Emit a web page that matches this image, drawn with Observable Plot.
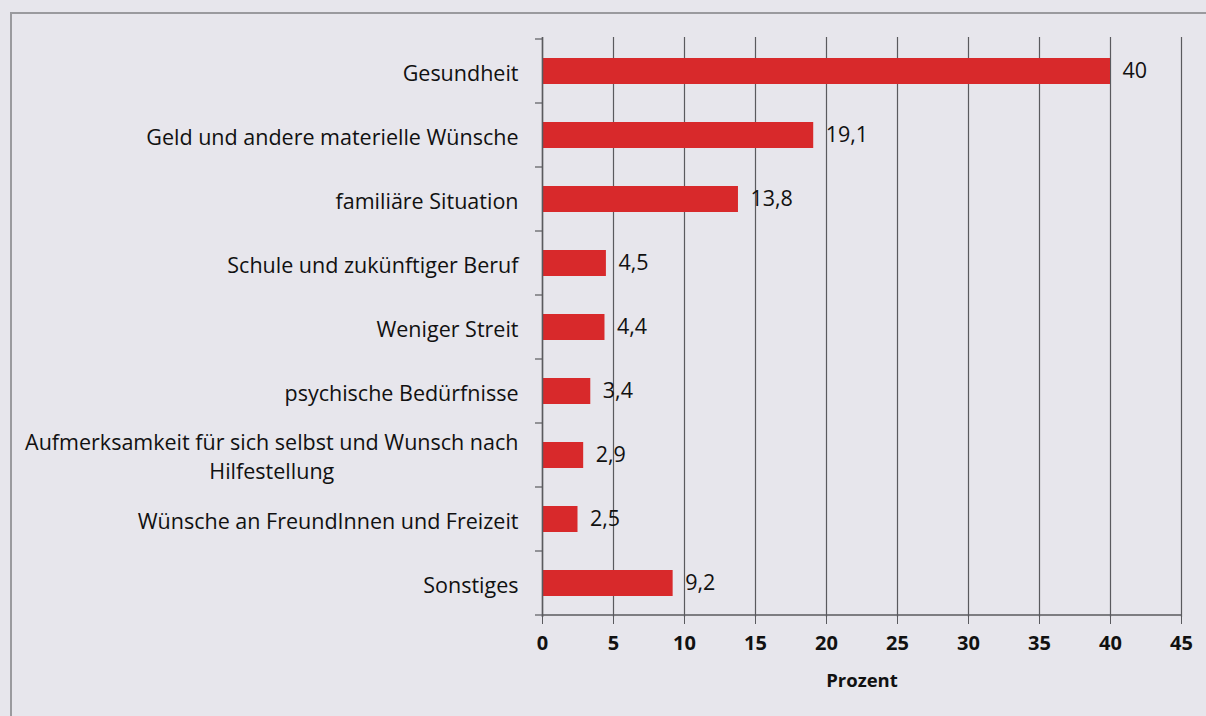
<!DOCTYPE html>
<html>
<head>
<meta charset="utf-8">
<script src="https://cdn.jsdelivr.net/npm/d3@7"></script>
<script src="https://cdn.jsdelivr.net/npm/@observablehq/plot@0.6"></script>
<style>
  html, body { margin: 0; padding: 0; background: #e7e6ec; }
  #wrap { position: relative; width: 1206px; height: 716px; overflow: hidden; }
  #box { position: absolute; left: 10px; top: 12px; width: 1220px; height: 720px; border: 2px solid #9a9a9e; box-sizing: border-box; }
  #chart { position: absolute; left: 0; top: 0; }
</style>
</head>
<body>
<div id="wrap"><div id="box"></div><div id="chart"></div></div>
<script>
const categories = [
  "Gesundheit",
  "Geld und andere materielle Wünsche",
  "familiäre Situation",
  "Schule und zukünftiger Beruf",
  "Weniger Streit",
  "psychische Bedürfnisse",
  "Aufmerksamkeit für sich selbst und Wunsch nach\nHilfestellung",
  "Wünsche an FreundInnen und Freizeit",
  "Sonstiges"
];
const values = [40, 19.1, 13.8, 4.5, 4.4, 3.4, 2.9, 2.5, 9.2];
const xTicks = [0, 5, 10, 15, 20, 25, 30, 35, 40, 45];
const xLabel = "Prozent";

const data = categories.map((c, i) => ({category: c, value: values[i]}));
const fmt = v => String(v).replace(".", ",");
const font = "'Open Sans', sans-serif";
const barColor = "#d8292b";
const gridColor = "#5a5a5e";
const padIn = 0.6;

const plot = Plot.plot({
  width: 1206,
  height: 716,
  marginLeft: 542,
  marginRight: 25,
  marginTop: 37,
  marginBottom: 99,
  style: {background: "transparent", fontFamily: font, color: "#111"},
  x: {domain: [0, 45], ticks: xTicks},
  y: {domain: categories, paddingInner: padIn, paddingOuter: padIn / 2},
  marks: [
    Plot.gridX(xTicks, {stroke: gridColor, strokeOpacity: 1, strokeWidth: 1.2}),
    Plot.barX(data, {x: "value", y: "category", fill: barColor}),
    Plot.ruleX([0], {stroke: gridColor, strokeWidth: 1.5}),
    Plot.axisX({ticks: xTicks, tickSize: 7, tickPadding: 11, fontSize: 20, fontWeight: "bold", stroke: gridColor, label: null, fill: "#111"}),
    Plot.axisY({tickSize: 0, tickPadding: 24, fontSize: 21.5, label: null, fill: "#111", lineHeight: 1.32}),
    Plot.text(data, {x: "value", y: "category", text: d => fmt(d.value), dx: 12, textAnchor: "start", fontSize: 21.5, fill: "#111"}),
    Plot.text([xLabel], {frameAnchor: "bottom", dy: 69, fontSize: 18.5, fontWeight: "bold", fill: "#111"})
  ]
});
document.getElementById("chart").appendChild(plot);

const sx = plot.scale("x"), sy = plot.scale("y");
const svg = d3.select(plot);
const x0 = sx.apply(0), x1 = sx.apply(45);
const step = sy.step ?? (sy.bandwidth / (1 - padIn));
const half = (step - sy.bandwidth) / 2;
const yBottom = sy.apply(categories[categories.length - 1]) + sy.bandwidth + half;
svg.append("line").attr("x1", x0).attr("x2", x1).attr("y1", yBottom).attr("y2", yBottom)
  .attr("stroke", gridColor).attr("stroke-width", 1.5);
const bounds = categories.map(c => sy.apply(c) - half).concat([yBottom]);
svg.append("g").selectAll("line").data(bounds).join("line")
  .attr("x1", x0 - 7).attr("x2", x0).attr("y1", d => d).attr("y2", d => d)
  .attr("stroke", gridColor).attr("stroke-width", 1.2);

// Center-align the lines of wrapped category labels (as in the original)
svg.selectAll("text").each(function() {
  const tspans = this.querySelectorAll("tspan");
  if (tspans.length > 1 && this.getAttribute("text-anchor") === "end" || (tspans.length > 1 && getComputedStyle(this).textAnchor === "end")) {
    const w = d3.max(Array.from(tspans), t => t.getComputedTextLength());
    this.setAttribute("text-anchor", "middle");
    tspans.forEach(t => {
      const cur = +(t.getAttribute("x") || 0);
      t.setAttribute("x", cur - w / 2);
    });
  }
});
</script>
</body>
</html>
